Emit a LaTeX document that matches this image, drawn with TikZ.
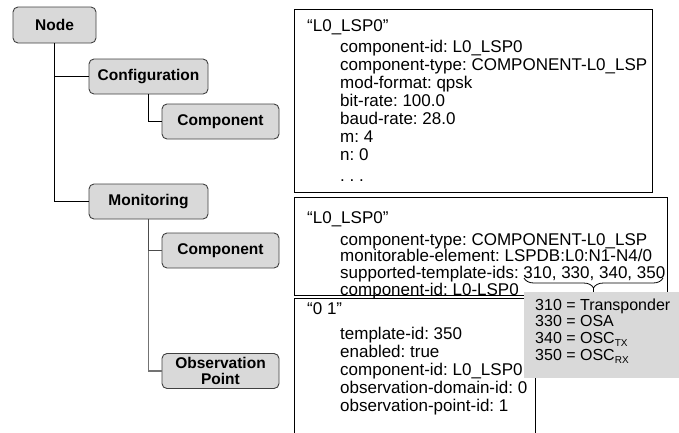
\documentclass[tikz,border=0pt]{standalone}
\usepackage{fontspec}
\setmainfont{Liberation Sans}
\usetikzlibrary{decorations.pathreplacing}
\newcommand\lowtag[1]{\raisebox{-3pt}{\fontsize{10}{10}\selectfont #1}}
\newcommand\lines[1]{\parbox[t]{400pt}{\raggedright #1}}
\frenchspacing
\begin{document}
\begin{tikzpicture}[x=1pt,y=-1pt,
  treebox/.style={draw=black!75, fill=black!15, rounded corners=5pt, line width=0.9pt,
    font=\fontsize{15.5}{17}\selectfont\bfseries, align=center, inner sep=0pt},
  infobox/.style={draw=black, line width=0.8pt, inner sep=0pt, anchor=north west},
  txt/.style={font=\fontsize{17}{18}\selectfont, inner sep=0pt, anchor=base west},
  link/.style={draw=black, line width=1pt},
  linkdark/.style={draw=black!70, line width=1.3pt},
  linkgray/.style={draw=black!55, line width=1.1pt}]
\useasboundingbox (0,0) rectangle (679,432);

% object tree
\node[treebox, minimum width=83pt, minimum height=36pt] (node) at (54.5,25) {Node};
\node[treebox, minimum width=119pt, minimum height=35pt] (conf) at (148.5,76.5) {Configuration};
\node[treebox, minimum width=117pt, minimum height=35pt] (ccomp) at (220.5,121.5) {Component};
\node[treebox, minimum width=119pt, minimum height=35pt] (mon) at (148.5,201.5) {Monitoring};
\node[treebox, minimum width=117pt, minimum height=35pt] (mcomp) at (220.5,250.5) {Component};
\node[treebox, minimum width=117pt, minimum height=35pt, font=\fontsize{15.5}{16.5}\selectfont\bfseries] (obs) at (220.5,371) {Observation\\Point};

\draw[link] (node.south) |- (conf.west);
\draw[link] (node.south) |- (mon.west);
\draw[link] (conf.south) |- (ccomp.west);
\draw[linkgray] (mon.south) |- (obs.west);
\draw[linkdark] (mon.south) |- (mcomp.west);

% detail boxes
\node[infobox, minimum width=358pt, minimum height=183pt] (cfgbox) at (294,9) {};
\node[infobox, minimum width=373pt, minimum height=98pt] (monbox) at (294,197) {};
\node[infobox, minimum width=241pt, minimum height=150pt] (obsbox) at (294,298) {};

% template legend
\node[fill=black!15, inner sep=0pt, anchor=north west, minimum width=155pt, minimum height=86pt] (legend) at (524,292) {};

% configuration component
\node[txt] (cfghead) at (307,31) {“L0\_LSP0”};
\node[txt] (cfgbody) at (340,52) {\lines{%
  component-id: L0\_LSP0\\
  component-type: COMPONENT-L0\_LSP\\
  mod-format: qpsk\\
  bit-rate: 100.0\\
  baud-rate: 28.0\\
  m: 4\\
  n: 0\\[3pt]
  . . .}};

% monitoring component
\node[txt] (monhead) at (307,223) {“L0\_LSP0”};
\node[txt, font=\fontsize{17}{16.7}\selectfont] (monbody) at (340,245) {\lines{%
  component-type: COMPONENT-L0\_LSP\\
  monitorable-element: LSPDB:L0:N1-N4/0\\
  supported-template-ids: 310, 330, 340, 350\\
  component-id: L0-LSP0}};

% observation point
\node[txt] (obshead) at (307,314) {“0 1”};
\node[txt] (obsbody) at (340,339) {\lines{%
  template-id: 350\\
  enabled: true\\
  component-id: L0\_LSP0\\
  observation-domain-id: 0\\
  observation-point-id: 1}};

\node[txt, font=\fontsize{16}{16.7}\selectfont] (legendtxt) at (535,310) {\lines{%
  310 = Transponder\\
  330 = OSA\\
  340 = OSC\lowtag{TX}\\
  350 = OSC\lowtag{RX}}};

% brace over the supported template ids
\coordinate (braceR) at (663,278);
\coordinate (braceL) at (524,278);
\coordinate (braceTip) at (593.5,288);
\draw[line width=0.8pt, decorate, decoration={brace, amplitude=10pt}] (braceR) -- (braceL);
\draw[line width=0.8pt] (braceTip) -- (braceTip |- legend.north);
\end{tikzpicture}
\end{document}
